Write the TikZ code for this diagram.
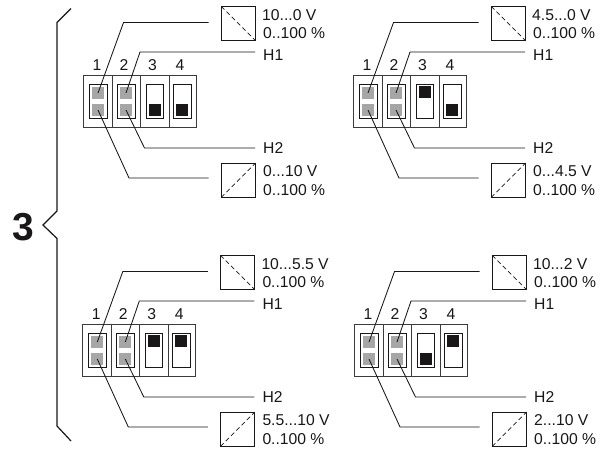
\documentclass[tikz,border=0pt]{standalone}
\usepackage{fontspec}
\setmainfont{Liberation Sans}
\definecolor{ink}{HTML}{1A1718}
\definecolor{switchgray}{HTML}{A6A6A6}
\tikzset{
  x=1pt,y=-1pt,
  lead/.style={draw=ink,line width=0.85pt,line join=miter},
  frame/.style={draw=ink!85,line width=1pt},
  slot/.style={draw=ink,line width=0.9pt,fill=white},
  graypad/.style={fill=switchgray},
  blackpad/.style={fill=ink},
  conv/.style={draw=ink,line width=0.85pt,fill=white},
  convdash/.style={draw=ink,line width=0.75pt,dash pattern=on 4.5pt off 3pt},
  lab/.style={anchor=west,inner sep=0pt,font=\fontsize{15.7}{17}\selectfont,text=ink},
  num/.style={anchor=center,inner sep=0pt,font=\fontsize{15.7}{17}\selectfont,text=ink},
}
% #1 prefix, #2 dx, #3 dy, #4 upper text, #5 lower text, #6 y of pad 3, #7 y of pad 4
\newcommand{\dippanel}[7]{
\begin{scope}[shift={(#2,#3)}]
  \draw[frame] (83.3,75) rectangle (196,127.5);
  \draw[frame] (112,75) -- (112,127.5) (140.5,75) -- (140.5,127.5) (169,75) -- (169,127.5);
  \draw[slot] (89.5,84.5) rectangle (107,118);
  \draw[slot] (117.5,84.5) rectangle (135,118);
  \draw[slot] (146.5,84.5) rectangle (163.5,118);
  \draw[slot] (173.5,84.5) rectangle (191,118);
  \fill[graypad] (92,87) rectangle (104,99);
  \fill[graypad] (92,104) rectangle (104,116);
  \fill[graypad] (120,87) rectangle (132,99);
  \fill[graypad] (120,104) rectangle (132,116);
  \fill[blackpad] (149,#6) rectangle (161,#6+12);
  \fill[blackpad] (176,#7) rectangle (188,#7+12);
  \node[num] (#1n1) at (97,65) {1};
  \node[num] (#1n2) at (124,65) {2};
  \node[num] (#1n3) at (152.5,65) {3};
  \node[num] (#1n4) at (180,65) {4};
  \coordinate (#1a1) at (98,93);
  \coordinate (#1a2) at (126,93);
  \coordinate (#1b1) at (98,110);
  \coordinate (#1b2) at (126,110);
  \node[conv,minimum size=33.5pt,inner sep=0pt] (#1up) at (238.3,23.5) {};
  \node[conv,minimum size=33.5pt,inner sep=0pt] (#1lo) at (238.3,180.3) {};
  \draw[convdash] (#1up.north west) -- (#1up.south east);
  \draw[convdash] (#1lo.south west) -- (#1lo.north east);
  \coordinate (#1e1) at (208.5,22.5);
  \coordinate (#1e2) at (208.5,178);
  \node[lab] (#1h1) at (263,55) {H1};
  \node[lab] (#1h2) at (263,148) {H2};
  \draw[lead] (#1a1) -- (123.5,22.5) -- (#1e1);
  \draw[lead] (#1a2) -- (140,52) -- (255,52);
  \draw[lead] (#1b1) -- (129,178) -- (#1e2);
  \draw[lead] (#1b2) -- (144.5,148) -- (255,148);
  \node[lab] (#1t1) at (262,15) {#4};
  \node[lab] (#1t2) at (263,33.5) {0..100 \%};
  \node[lab] (#1t3) at (263,171) {#5};
  \node[lab] (#1t4) at (263,190) {0..100 \%};
\end{scope}
}
\begin{document}
\begin{tikzpicture}
\useasboundingbox (0,0) rectangle (615,448);
\fill[white] (0,0) rectangle (615,448);
\draw[ink,line width=1.2pt] (71,8.5) -- (57,22.5) -- (57,211) -- (43,225) -- (57,238.5) -- (57,426) -- (71,441);
\node[inner sep=0pt,text=ink,font=\fontsize{39}{41}\selectfont\bfseries] (brace3) at (23,227) {3};
\dippanel{a}{0}{0}{10...0 V}{0...10 V}{104}{104}
\dippanel{b}{270}{0}{4.5...0 V}{0...4.5 V}{86}{104}
\dippanel{c}{-0.7}{249}{10...5.5 V}{5.5...10 V}{86}{86}
\dippanel{d}{271}{249}{10...2 V}{2...10 V}{104}{86}
\end{tikzpicture}
\end{document}
